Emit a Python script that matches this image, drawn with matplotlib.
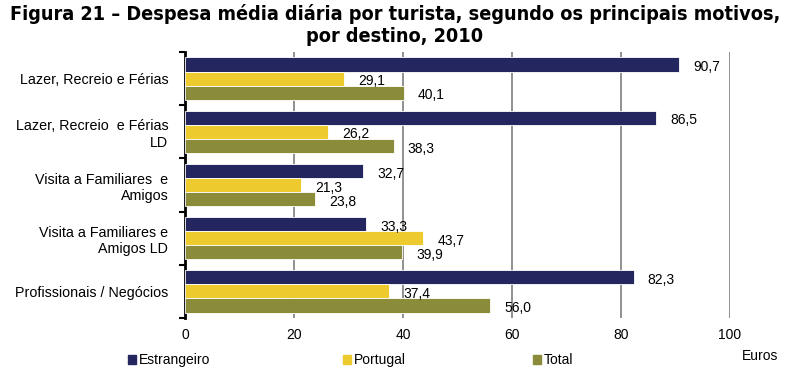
import numpy as np
import matplotlib
matplotlib.use("Agg")
import matplotlib.pyplot as plt
from matplotlib.patches import Patch

plt.rcParams['font.family'] = ['Liberation Sans', 'DejaVu Sans']

# data
categories = ["Lazer, Recreio e Férias",
              "Lazer, Recreio  e Férias\nLD",
              "Visita a Familiares  e\nAmigos",
              "Visita a Familiares e\nAmigos LD",
              "Profissionais / Negócios"]
estrangeiro = [90.7, 86.5, 32.7, 33.3, 82.3]
portugal = [29.1, 26.2, 21.3, 43.7, 37.4]
total = [40.1, 38.3, 23.8, 39.9, 56.0]
series_names = ["Estrangeiro", "Portugal", "Total"]
colors = ["#24265F", "#EDCB2E", "#8A8C3A"]
xticks = [0, 20, 40, 60, 80, 100]

fig = plt.figure(figsize=(7.9, 3.8), dpi=100)
ax = fig.add_axes([185/790, 1-318/380, 545/790, 266/380])

n = len(categories)
y = np.arange(n)
h = 0.265
for i, (vals, col) in enumerate(zip([estrangeiro, portugal, total], colors)):
    pos = y + (i - 1) * h
    ax.barh(pos, vals, height=h, color=col, edgecolor="white", linewidth=0.6, zorder=3)
    for p, v in zip(pos, vals):
        ax.text(v + 2.6, p + 0.05, f"{v:.1f}".replace(".", ","), va="center", ha="left",
                fontsize=10, zorder=4, clip_on=False)

ax.set_ylim(n - 0.5, -0.5)
ax.set_xlim(0, 100)
ax.set_xticks(xticks)
ax.set_xticklabels([str(t) for t in xticks], fontsize=10)
ax.tick_params(axis="x", length=0, pad=7)

ax.set_yticks(y)
ax.set_yticklabels(categories, fontsize=10.3)
ax.set_yticks(np.arange(n + 1) - 0.5, minor=True)
ax.tick_params(axis="y", which="major", length=0, pad=12)
ax.tick_params(axis="y", which="minor", length=4, width=1.5, direction="out")

ax.grid(axis="x", color="#888888", linewidth=1.3, zorder=0)
for s in ["top", "right", "bottom"]:
    ax.spines[s].set_visible(False)
ax.spines["left"].set_linewidth(2)

fig.text(0.5, 0.99, "Figura 21 – Despesa média diária por turista, segundo os principais motivos,\npor destino, 2010",
         ha="center", va="top", fontsize=14.2, fontweight="bold",
         family=["DejaVu Sans"], fontstretch="condensed", linespacing=1.2)

handles = [Patch(color=c) for c in colors]
for hnd, name, xp in zip(handles, series_names, [128, 343, 533]):
    fig.legend([hnd], [name], loc="center left", bbox_to_anchor=(xp/790, 1-360/380),
               frameon=False, fontsize=10, handlelength=0.6, handleheight=0.6,
               handletextpad=0.2, borderpad=0, borderaxespad=0)
fig.text(742/790, 1-356/380, "Euros", ha="left", va="center", fontsize=10)

fig.savefig("out.png", dpi=100)
